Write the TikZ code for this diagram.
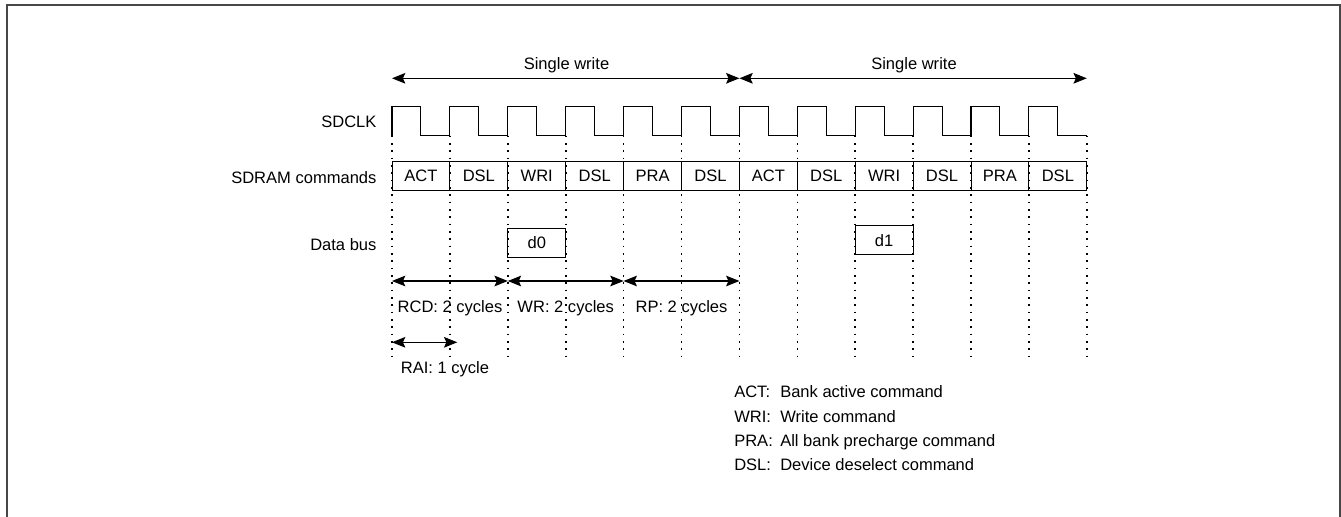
\documentclass[tikz,border=0pt]{standalone}
\usepackage{fontspec}
\setmainfont{Liberation Sans}
\usetikzlibrary{arrows.meta}
\begin{document}
\begin{tikzpicture}[x=0.75pt,y=-0.75pt,
  lbl/.style={font=\fontsize{12.4pt}{14pt}\selectfont, inner sep=0pt},
  cell/.style={draw, line width=0.75pt, minimum width=43.425pt, minimum height=21.75pt, inner sep=0pt, lbl},
  clk/.style={line width=0.8pt, line join=miter},
  gridline/.style={line width=1.2pt, dash pattern=on 1.2pt off 4.3pt},
  span/.style={line width=0.8pt, {Stealth[length=10pt,width=8pt,inset=1.8pt]}-{Stealth[length=10pt,width=8pt,inset=1.8pt]}},
  frame/.style={line width=1.5pt, draw=black!72}
]
\useasboundingbox (0,0) rectangle (1341,517);
\draw[frame] (6.5,517) -- (6.5,5) -- (1339.5,5) -- (1339.5,517);

% signal names
\node[lbl, anchor=base east] (nclk) at (376.7,127.7) {SDCLK};
\node[lbl, anchor=base east] (ncmd) at (376.7,183.2) {SDRAM commands};
\node[lbl, anchor=base east] (ndat) at (376.7,250) {Data bus};

% clock
\draw[clk] (392,135.7) \foreach \i in {0,...,11} { -- ++(0,-29) -- ++(28.95,0) -- ++(0,29) -- ++(28.95,0) };

% command cells
\foreach \t [count=\i from 0] in {ACT,DSL,WRI,DSL,PRA,DSL,ACT,DSL,WRI,DSL,PRA,DSL}
  \node[cell] (c\i) at ({392+57.9*\i+28.95},176.2) {\t};

% data
\node[cell] (d0) at (536.75,243) {d0};
\node[cell] (d1) at (884.15,240.3) {d1};

% dotted grid
\foreach \i in {0,...,12} {
  \coordinate (t\i) at ({392+57.9*\i},135.7);
  \coordinate (b\i) at ({392+57.9*\i},361.7);
  \draw[gridline] (t\i) -- (b\i);
}

% single write spans
\coordinate (s0) at (392,78.3);
\coordinate (s1) at (739.4,78.3);
\coordinate (s2) at (1086.8,78.3);
\draw[span] (s0) -- (s1);
\draw[span] (s1) -- (s2);
\node[lbl, anchor=base] (sw1) at (566.5,69.3) {Single write};
\node[lbl, anchor=base] (sw2) at (914,69.3) {Single write};

% timing spans
\coordinate (a0) at (392,281);
\coordinate (a2) at (507.8,281);
\coordinate (a4) at (623.6,281);
\coordinate (a6) at (739.4,281);
\draw[span] (a0) -- (a2);
\draw[span] (a2) -- (a4);
\draw[span] (a4) -- (a6);
\node[lbl, anchor=base] (lrcd) at (450,312.7) {RCD: 2 cycles};
\node[lbl, anchor=base] (lwr) at (565.7,312.7) {WR: 2 cycles};
\node[lbl, anchor=base] (lrp) at (681.5,312.7) {RP: 2 cycles};

\coordinate (r0) at (392,342.3);
\coordinate (r1) at (457.3,342.3);
\draw[span] (r0) -- (r1);
\node[lbl, anchor=base] (lrai) at (445,373.7) {RAI: 1 cycle};

% legend
\node[lbl, anchor=base west] (k1) at (734,397.7) {ACT:};
\node[lbl, anchor=base west] (v1) at (780,397.7) {Bank active command};
\node[lbl, anchor=base west] (k2) at (734,422) {WRI:};
\node[lbl, anchor=base west] (v2) at (780,422) {Write command};
\node[lbl, anchor=base west] (k3) at (734,446.3) {PRA:};
\node[lbl, anchor=base west] (v3) at (780,446.3) {All bank precharge command};
\node[lbl, anchor=base west] (k4) at (734,470.7) {DSL:};
\node[lbl, anchor=base west] (v4) at (780,470.7) {Device deselect command};
\end{tikzpicture}
\end{document}
